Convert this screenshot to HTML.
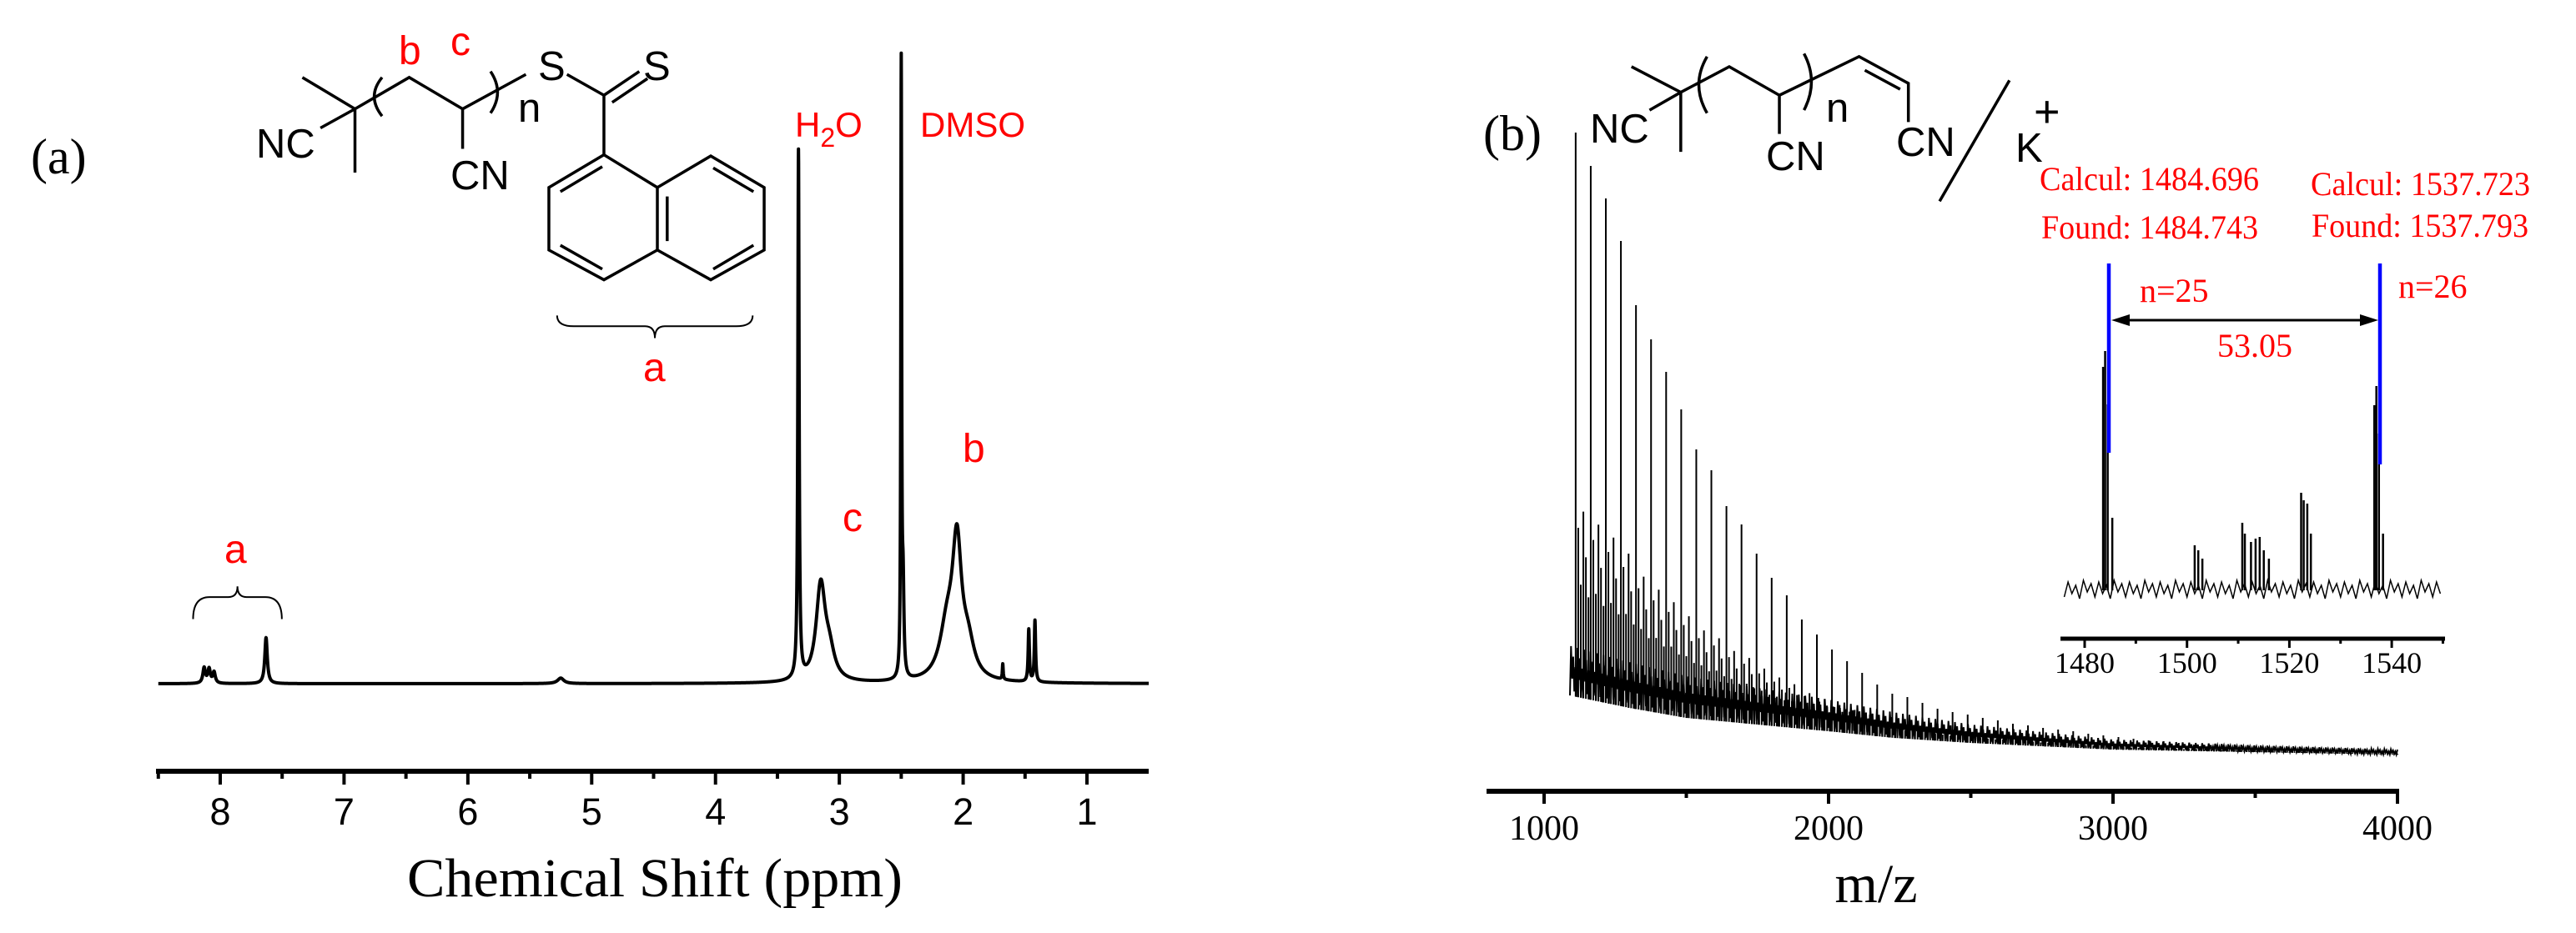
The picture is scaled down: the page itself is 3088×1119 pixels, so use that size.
<!DOCTYPE html>
<html><head><meta charset="utf-8"><style>
html,body{margin:0;padding:0;background:#fff}
svg{display:block}
.sans{font-family:"Liberation Sans",sans-serif}
.serif{font-family:"Liberation Serif",serif}
</style></head><body>
<svg id="fig" width="3088" height="1119" viewBox="0 0 3088 1119" xmlns="http://www.w3.org/2000/svg">
<rect width="3088" height="1119" fill="#fff"/>
<!-- Panel A structure -->
<g>
<g transform="scale(0.985,0.714)" fill="none" stroke="#000" stroke-width="3.5" vector-effect="non-scaling-stroke">
<path vector-effect="non-scaling-stroke" d="M368,130 L432,183 L432,290 M390,215 L432,183 L498,130 L563,183 L563,250 M563,183 L640,125 M690,125 L735,160 L735,260 M735,160 L778,120 M745,172 L788,132"/>
<path vector-effect="non-scaling-stroke" d="M465,130 Q446,162 465,195 M597,120 Q614,155 597,190"/>
<path vector-effect="non-scaling-stroke" d="M735,260 L668,315 L668,420 L735,470 L800,420 L800,315 Z M800,315 L865,262 L930,315 L930,420 L865,470 L800,420"/>
<path vector-effect="non-scaling-stroke" d="M682,322 L733,280 M682,412 L733,452 M812,330 L812,405 M868,282 L917,322 M917,412 L868,452"/>
<path vector-effect="non-scaling-stroke" stroke-width="2" d="M678,530 Q678,548 698,548 L785,548 Q797,548 797,568 Q797,548 809,548 L896,548 Q916,548 916,530"/>
<path vector-effect="non-scaling-stroke" stroke-width="2" d="M235,1040 Q235,1003 255,1003 L278,1003 Q289,1003 289,985 Q289,1003 300,1003 L323,1003 Q343,1003 343,1040"/>
</g>
<text class="sans" x="307" y="189" font-size="49">NC</text>
<text class="sans" x="540" y="227" font-size="49">CN</text>
<text class="sans" x="621" y="146" font-size="49">n</text>
<text class="sans" x="645" y="96" font-size="49">S</text>
<text class="sans" x="771" y="96" font-size="49">S</text>
<text class="sans" x="478" y="77" font-size="48" fill="#f00">b</text>
<text class="sans" x="540" y="66" font-size="48" fill="#f00">c</text>
<text class="sans" x="771" y="457" font-size="48" fill="#f00">a</text>
</g>
<text class="serif" x="37" y="208" font-size="60">(a)</text>
<text class="sans" x="953" y="164" font-size="42" fill="#f00">H<tspan font-size="32" dy="12">2</tspan><tspan dy="-12">O</tspan></text>
<text class="sans" x="1103" y="164" font-size="42" fill="#f00">DMSO</text>
<text class="sans" x="1154" y="554" font-size="48" fill="#f00">b</text>
<text class="sans" x="1010" y="637" font-size="48" fill="#f00">c</text>
<text class="sans" x="269" y="675" font-size="48" fill="#f00">a</text>
<g id="nmr"></g>
<text class="serif" x="488" y="1075" font-size="66" textLength="594" lengthAdjust="spacingAndGlyphs">Chemical Shift (ppm)</text>

<!-- Panel B structure -->
<g>
<g transform="translate(1544,0) scale(0.985,0.714)" fill="none" stroke="#000" stroke-width="3.5">
<path vector-effect="non-scaling-stroke" d="M418,112 L478,155 L478,255 M440,185 L478,155 L537,112 L598,160 L598,225 M598,160 L695,95 L755,140 L755,205 M702,118 L745,150"/>
<path vector-effect="non-scaling-stroke" d="M510,95 Q490,142 510,190 M628,90 Q646,137 628,185"/>
<path vector-effect="non-scaling-stroke" d="M878,135 L793,338"/>
</g>
<text class="sans" x="1906" y="171" font-size="49">NC</text>
<text class="sans" x="2117" y="204" font-size="49">CN</text>
<text class="sans" x="2189" y="146" font-size="49">n</text>
<text class="sans" x="2273" y="187" font-size="49">CN</text>
<text class="sans" x="2416" y="194" font-size="49">K</text>
<text class="sans" x="2438" y="152" font-size="54">+</text>
</g>
<text class="serif" x="1778" y="180" font-size="60">(b)</text>
<text class="serif" x="2445" y="228" font-size="40" fill="#f00" textLength="263" lengthAdjust="spacingAndGlyphs">Calcul: 1484.696</text>
<text class="serif" x="2447" y="286" font-size="40" fill="#f00" textLength="260" lengthAdjust="spacingAndGlyphs">Found: 1484.743</text>
<text class="serif" x="2770" y="234" font-size="40" fill="#f00" textLength="263" lengthAdjust="spacingAndGlyphs">Calcul: 1537.723</text>
<text class="serif" x="2771" y="284" font-size="40" fill="#f00" textLength="260" lengthAdjust="spacingAndGlyphs">Found: 1537.793</text>
<text class="serif" x="2565" y="362" font-size="40" fill="#f00">n=25</text>
<text class="serif" x="2875" y="357" font-size="40" fill="#f00">n=26</text>
<text class="serif" x="2703" y="428" font-size="40" fill="#f00" text-anchor="middle">53.05</text>
<g id="ms"></g>
<g id="inset"></g>
<line x1="2528" y1="316" x2="2528" y2="543" stroke="#00f" stroke-width="4.5"/>
<line x1="2853" y1="316" x2="2853" y2="557" stroke="#00f" stroke-width="4.5"/>
<g>
<line x1="2545" y1="384" x2="2836" y2="384" stroke="#000" stroke-width="3"/>
<path d="M2531,384 L2553,377 L2553,391 Z M2851,384 L2829,377 L2829,391 Z" fill="#000"/>
</g>
<text class="serif" x="2249" y="1082" font-size="66" text-anchor="middle">m/z</text>
</svg>
<script>
// ---------- NMR data ----------
const nmrPeakPpm    = [8.13, 8.09, 8.05, 7.63, 5.25, 3.33, 3.15, 3.08, 2.50, 2.485, 2.05, 2.13, 1.96, 1.68, 1.47, 1.42];
const nmrPeakHeight = [2.5,  2.3,  1.8,  7.5,  0.9,  86,   15.5, 4,    99,   14,    21,   8,    5,    2.5,  8.5,  10];
const nmrPeakWidth  = [0.012,0.012,0.012,0.012,0.03, 0.006,0.045,0.05, 0.004,0.008, 0.045,0.07, 0.06, 0.004,0.006,0.006];
const nmrTicks = [8,7,6,5,4,3,2,1];
const nmrTickLabels = ['8','7','6','5','4','3','2','1'];
// ---------- MS data ----------
const msFirstPeak = 1111, msSpacing = 53;
const msPeakInt = [790,750,711,660,583,542,503,458,410,385,342,320,285,256,235,206,188,170,156,142,128,117,113,106,99,95,92,88,85,81,79,76,74,72,69,67,65,63,61,60,58,56,55,54,53,52,51,50,50,49,49,48,48,47,47];
const msBaseMz  = [1075,1300,1500,2000,2230,2500,3000,3500,4000];
const msBaseInt = [116,100,88,72,64,58,50,47,44];
const msAmpMz   = [1075,1500,2000,2500,3000,3500,4000];
const msAmpInt  = [60,50,38,22,12,8,6];
const msSubOffset = [9,18,27,36,45];
const msSubFrac   = [0.3,0.2,0.33,0.25,0.18];
const msTicks = [1000,2000,3000,4000];
const msTickLabels = ['1000','2000','3000','4000'];
// ---------- Inset data ----------
const insetPeakMz  = [1483.6,1484.0,1484.5,1485.4,1501.5,1502.2,1503.0,1510.8,1511.3,1512.5,1513.4,1514.2,1515.0,1516.0,1522.3,1522.8,1523.5,1524.2,1536.6,1537.0,1537.5,1538.3];
const insetPeakInt = [280,299,235,99,66,60,50,93,80,70,74,76,60,50,129,120,116,80,234,257,200,80];
const insetTicks = [1480,1500,1520,1540];
const insetTickLabels = ['1480','1500','1520','1540'];

const NS='http://www.w3.org/2000/svg';
function mk(tag, attrs, parent){const e=document.createElementNS(NS,tag);for(const k in attrs)e.setAttribute(k,attrs[k]);parent.appendChild(e);return e;}
function interp(xs, ys, x){if(x<=xs[0])return ys[0];for(let i=1;i<xs.length;i++){if(x<=xs[i]){const t=(x-xs[i-1])/(xs[i]-xs[i-1]);return ys[i-1]+t*(ys[i]-ys[i-1]);}}return ys[ys.length-1];}

// ---- NMR axes ----
const nmrX = p => 264 + (8 - p) * 148.43;
const nmrY = v => 820 - v * 7.36;
const gN = document.getElementById('nmr');
let d='';
for(let p=8.5;p>=0.5;p-=0.001){let v=0;for(let i=0;i<nmrPeakPpm.length;i++){const w=nmrPeakWidth[i],dx=p-nmrPeakPpm[i];v+=nmrPeakHeight[i]*w*w/(dx*dx+w*w);}d+=(d?'L':'M')+nmrX(p).toFixed(2)+','+nmrY(v).toFixed(2);}
let sp=mk('path',{d:d,fill:'none',stroke:'#000','stroke-width':4,'stroke-linejoin':'round'},gN);


let ax=mk('line',{x1:187,y1:925,x2:1377,y2:925,stroke:'#000','stroke-width':6},gN);


for(let p=1;p<=8.5;p+=0.5){const maj=Number.isInteger(p);const t=mk('line',{x1:nmrX(p),y1:923,x2:nmrX(p),y2:maj?941:934,stroke:'#000','stroke-width':4},gN);

}
nmrTicks.forEach((p,i)=>{const t=mk('text',{x:nmrX(p),y:989,'font-size':45,'text-anchor':'middle',class:'sans'},gN);t.textContent=nmrTickLabels[i];

});

// ---- MS axes ----
const msX = m => 1851 + (m - 1000) * 0.341;
const msY = v => 949 - v;
const gM = document.getElementById('ms');
d='';let k=0;
const pat=[0,1,0.35,0.8,0.1,0.6];
for(let x=1882;x<=2874;x+=1.3){const m=(x-1851)/0.341+1000;const b=interp(msBaseMz,msBaseInt,m),a=interp(msAmpMz,msAmpInt,m);const v=b+a*pat[k%pat.length];k++;d+=(d?'L':'M')+x.toFixed(1)+','+msY(v).toFixed(1);}
let band=mk('path',{d:d,fill:'none',stroke:'#000','stroke-width':2},gM);


msPeakInt.forEach((v,i)=>{const m=msFirstPeak+i*msSpacing;if(m>4000)return;const b=interp(msBaseMz,msBaseInt,m);
const l=mk('line',{x1:msX(m),y1:msY(b),x2:msX(m),y2:msY(v),stroke:'#000','stroke-width':2},gM);


msSubOffset.forEach((o,j)=>{const mm=m+o;if(mm>4000)return;const bb=interp(msBaseMz,msBaseInt,mm);const vv=bb+(v-bb)*msSubFrac[j];
const s=mk('line',{x1:msX(mm),y1:msY(bb),x2:msX(mm),y2:msY(vv),stroke:'#000','stroke-width':2},gM);

});});
ax=mk('line',{x1:1782,y1:949,x2:2876,y2:949,stroke:'#000','stroke-width':6},gM);


for(let m=1000;m<=4000;m+=500){const maj=m%1000===0;const t=mk('line',{x1:msX(m),y1:947,x2:msX(m),y2:maj?964:957,stroke:'#000','stroke-width':4},gM);

}
msTicks.forEach((m,i)=>{const t=mk('text',{x:msX(m),y:1007,'font-size':42,'text-anchor':'middle',class:'serif'},gM);t.textContent=msTickLabels[i];

});

// ---- Inset ----
const inX = m => 2499 + (m - 1480) * 6.135;
const inY = v => 720 - v;
const gI = document.getElementById('inset');
d='';k=0;const ipat=[4,22,8,18,2,24,10,20];
for(let m=1476;m<=1550;m+=0.75){d+=(d?'L':'M')+inX(m).toFixed(1)+','+inY(ipat[k%ipat.length]).toFixed(1);k++;}
let nz=mk('path',{d:d,fill:'none',stroke:'#000','stroke-width':1.5},gI);


insetPeakMz.forEach((m,i)=>{const l=mk('line',{x1:inX(m),y1:inY(12),x2:inX(m),y2:inY(insetPeakInt[i]),stroke:'#000','stroke-width':2.5},gI);

});
ax=mk('line',{x1:2470,y1:766,x2:2931,y2:766,stroke:'#000','stroke-width':5},gI);


for(let m=1480;m<=1550;m+=10){const maj=m%20===0;const t=mk('line',{x1:inX(m),y1:764,x2:inX(m),y2:maj?777:772,stroke:'#000','stroke-width':3},gI);

}
insetTicks.forEach((m,i)=>{const t=mk('text',{x:inX(m),y:807,'font-size':36,'text-anchor':'middle',class:'serif'},gI);t.textContent=insetTickLabels[i];

});
</script>
</body></html>
